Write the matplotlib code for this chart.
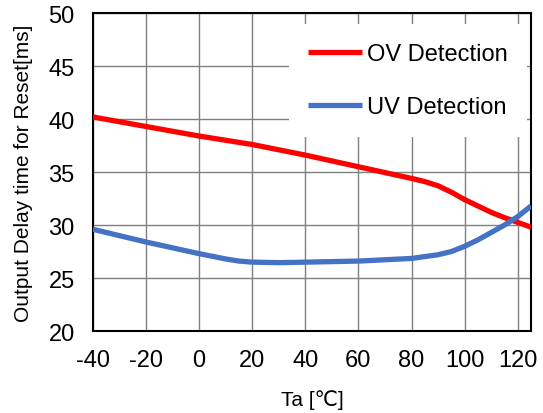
import matplotlib
matplotlib.use("Agg")
import matplotlib.pyplot as plt

plt.rcParams['font.family'] = ['Liberation Sans', 'DejaVu Sans']
plt.rcParams['axes.unicode_minus'] = False

temp_ov = [-40, -20, 0, 20, 40, 60, 80, 85, 90, 95, 100, 105, 110, 115, 120, 125]
ov_delay = [40.2, 39.3, 38.4, 37.6, 36.6, 35.5, 34.4, 34.1, 33.7, 33.1, 32.4, 31.8, 31.2, 30.7, 30.25, 29.8]

temp_uv = [-40, -20, 0, 10, 15, 20, 30, 40, 60, 80, 90, 95, 100, 105, 110, 115, 120, 125]
uv_delay = [29.6, 28.4, 27.3, 26.8, 26.6, 26.5, 26.45, 26.5, 26.6, 26.85, 27.2, 27.5, 28.0, 28.6, 29.3, 30.0, 30.8, 31.8]

x_ticks = [-40, -20, 0, 20, 40, 60, 80, 100, 120]
y_ticks = [20, 25, 30, 35, 40, 45, 50]

fig = plt.figure(figsize=(5.43, 4.14), dpi=100)
ax = fig.add_axes([0.171, 0.198, 0.807, 0.768])

ax.plot(temp_ov, ov_delay, color='#FF0000', lw=3.8, label='OV Detection', solid_capstyle='butt', zorder=3)
ax.plot(temp_uv, uv_delay, color='#4472C4', lw=3.8, label='UV Detection', solid_capstyle='butt', zorder=3)

ax.set_xlim(-40, 125)
ax.set_ylim(20, 50)
ax.set_xticks(x_ticks)
ax.set_yticks(y_ticks)
ax.grid(True, color='#7f7f7f', lw=1.0)
ax.set_axisbelow(True)
ax.tick_params(axis='x', length=0, labelsize=17, pad=13)
ax.tick_params(axis='y', length=0, labelsize=17, pad=13)
for s in ax.spines.values():
    s.set_linewidth(1.5)
    s.set_color('black')

ax.set_xlabel('Ta [\u2103]', fontsize=15, labelpad=13)
ax.set_ylabel('Output Delay time for Reset[ms]', fontsize=15, labelpad=11)

leg = ax.legend(loc='upper right', bbox_to_anchor=(0.99, 0.965), fontsize=17,
                frameon=True, fancybox=False,
                edgecolor='none', facecolor='white', framealpha=1,
                handlelength=2.3, handletextpad=0.2, labelspacing=1.33,
                borderaxespad=0.0, borderpad=0.8)

fig.savefig('out.png', dpi=100)
